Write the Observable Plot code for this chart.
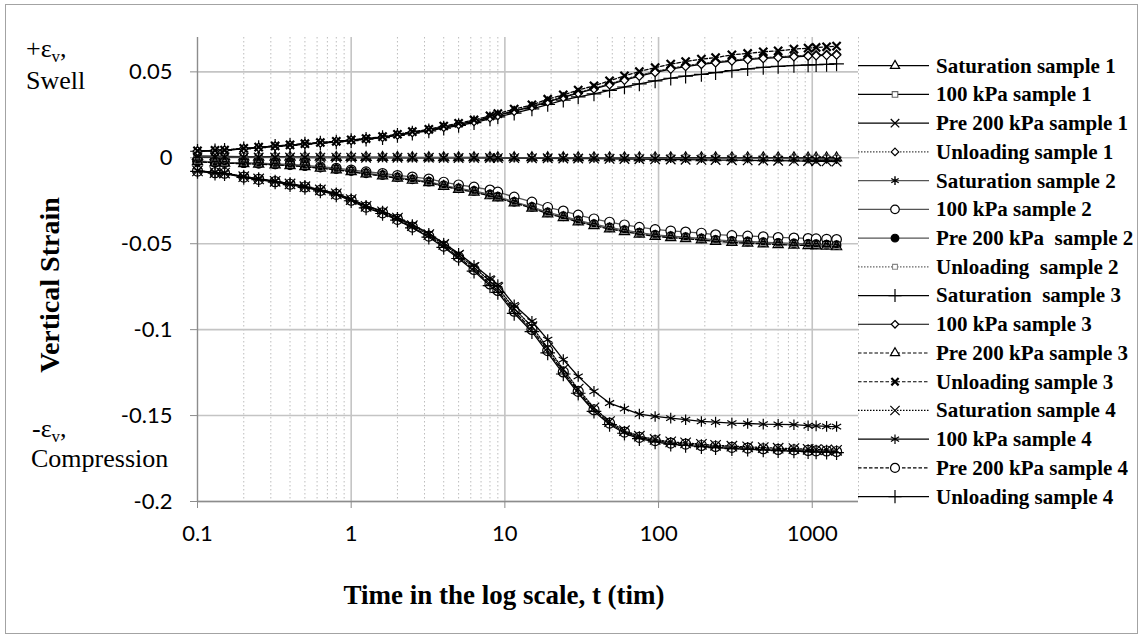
<!DOCTYPE html>
<html>
<head>
<meta charset="utf-8">
<script src="https://cdn.jsdelivr.net/npm/d3@7"></script>
<script src="https://cdn.jsdelivr.net/npm/@observablehq/plot@0.6"></script>
<style>
  body { margin: 0; background: #fff; }
  #wrap { position: relative; width: 1147px; height: 644px; overflow: hidden; background: #fff; }
  #frame { position: absolute; left: 5px; top: 4px; width: 1133px; height: 630px; border: 1.5px solid #a3a3a3; box-sizing: border-box; }
  #wrap svg { position: absolute; left: 0; top: 0; }
</style>
</head>
<body>
<div id="wrap"><div id="frame"></div></div>
<script>
// ---------- data ----------
const times = [
  0.1, 0.13, 0.15, 0.2, 0.25, 0.32, 0.4, 0.5, 0.63, 0.8, 1,
  1.25, 1.6, 2, 2.5, 3.2, 4, 5, 6.3, 8, 9, 11.5,
  15, 19, 24, 30, 38, 48, 60, 75, 95, 120, 150,
  190, 235, 300, 380, 480, 600, 760, 940, 1060, 1240, 1440
];

const seriesNames = [
  "Saturation sample 1", "100 kPa sample 1", "Pre 200 kPa sample 1", "Unloading sample 1",
  "Saturation sample 2", "100 kPa sample 2", "Pre 200 kPa  sample 2", "Unloading  sample 2",
  "Saturation  sample 3", "100 kPa sample 3", "Pre 200 kPa sample 3", "Unloading sample 3",
  "Saturation sample 4", "100 kPa sample 4", "Pre 200 kPa sample 4", "Unloading sample 4"
];

const satS1 = [
  0.0008, 0.0007, 0.0006, 0.0005, 0.0004, 0.0004, 0.0003, 0.0003, 0.0003, 0.0002, 0.0002,
  0.0002, 0.0002, 0.0002, 0.0001, 0.0001, 0.0001, 0.0001, 0.0001, 0.0001, 0.0001, 0.0001,
  0.0001, 0.0001, 0.0001, 0.0001, 0.0000, 0.0000, 0.0000, 0.0000, 0.0000, 0.0000, 0.0000,
  0.0000, 0.0000, 0.0000, 0.0000, 0.0000, 0.0000, 0.0000, -0.0001, -0.0001, -0.0001, -0.0001
];
const kpa100S1 = [
  0.0010, 0.0009, 0.0008, 0.0007, 0.0006, 0.0006, 0.0005, 0.0005, 0.0004, 0.0004, 0.0004,
  0.0003, 0.0003, 0.0003, 0.0003, 0.0002, 0.0002, 0.0002, 0.0002, 0.0002, 0.0001, 0.0001,
  0.0001, 0.0001, 0.0001, 0.0000, 0.0000, 0.0000, 0.0000, 0.0000, -0.0001, -0.0001, -0.0001,
  -0.0001, -0.0002, -0.0002, -0.0002, -0.0003, -0.0003, -0.0003, -0.0004, -0.0004, -0.0004, -0.0005
];
const pre200S1 = [
  0.0003, 0.0003, 0.0003, 0.0002, 0.0002, 0.0002, 0.0002, 0.0001, 0.0001, 0.0001, 0.0001,
  0.0000, 0.0000, 0.0000, 0.0000, 0.0000, -0.0001, -0.0001, -0.0001, -0.0001, -0.0002, -0.0002,
  -0.0003, -0.0003, -0.0004, -0.0004, -0.0005, -0.0006, -0.0007, -0.0008, -0.0009, -0.0010, -0.0011,
  -0.0012, -0.0013, -0.0014, -0.0015, -0.0016, -0.0017, -0.0018, -0.0019, -0.0020, -0.0021, -0.0022
];
const unloadS1 = [
  0.0040, 0.0043, 0.0045, 0.0054, 0.0061, 0.0068, 0.0074, 0.0081, 0.0088, 0.0095, 0.0103,
  0.0111, 0.0121, 0.0134, 0.0149, 0.0163, 0.0180, 0.0196, 0.0214, 0.0237, 0.0250, 0.0274,
  0.0300, 0.0330, 0.0355, 0.0380, 0.0405, 0.0430, 0.0457, 0.0480, 0.0502, 0.0521, 0.0536,
  0.0549, 0.0558, 0.0568, 0.0576, 0.0583, 0.0588, 0.0593, 0.0597, 0.0599, 0.0601, 0.0603
];
const satS2 = [
  0.0005, 0.0005, 0.0004, 0.0004, 0.0004, 0.0003, 0.0003, 0.0003, 0.0003, 0.0002, 0.0002,
  0.0002, 0.0002, 0.0001, 0.0001, 0.0001, 0.0001, 0.0001, 0.0000, 0.0000, 0.0000, 0.0000,
  0.0000, 0.0000, 0.0000, -0.0001, -0.0001, -0.0001, -0.0001, -0.0002, -0.0002, -0.0002, -0.0003,
  -0.0003, -0.0003, -0.0004, -0.0004, -0.0005, -0.0005, -0.0006, -0.0006, -0.0007, -0.0007, -0.0008
];
const kpa100S2 = [
  -0.0018, -0.0025, -0.0027, -0.0028, -0.0031, -0.0035, -0.0039, -0.0044, -0.0052, -0.0060, -0.0070,
  -0.0081, -0.0091, -0.0102, -0.0111, -0.0123, -0.0141, -0.0157, -0.0170, -0.0187, -0.0199, -0.0228,
  -0.0257, -0.0288, -0.0309, -0.0333, -0.0355, -0.0374, -0.0390, -0.0404, -0.0417, -0.0425, -0.0431,
  -0.0438, -0.0447, -0.0452, -0.0455, -0.0459, -0.0463, -0.0466, -0.0469, -0.0471, -0.0473, -0.0475
];
const pre200S2 = [
  -0.0020, -0.0028, -0.0030, -0.0031, -0.0034, -0.0038, -0.0042, -0.0048, -0.0057, -0.0066, -0.0077,
  -0.0090, -0.0101, -0.0114, -0.0125, -0.0139, -0.0160, -0.0178, -0.0193, -0.0213, -0.0226, -0.0256,
  -0.0286, -0.0318, -0.0340, -0.0364, -0.0386, -0.0405, -0.0421, -0.0435, -0.0448, -0.0456, -0.0462,
  -0.0469, -0.0478, -0.0484, -0.0487, -0.0491, -0.0495, -0.0498, -0.0501, -0.0503, -0.0505, -0.0508
];
const unloadS2 = [
  -0.0021, -0.0029, -0.0031, -0.0033, -0.0036, -0.0040, -0.0044, -0.0050, -0.0059, -0.0068, -0.0079,
  -0.0092, -0.0104, -0.0117, -0.0128, -0.0142, -0.0163, -0.0181, -0.0197, -0.0217, -0.0230, -0.0259,
  -0.0289, -0.0322, -0.0343, -0.0368, -0.0390, -0.0409, -0.0425, -0.0439, -0.0452, -0.0460, -0.0466,
  -0.0473, -0.0482, -0.0488, -0.0491, -0.0495, -0.0499, -0.0502, -0.0505, -0.0507, -0.0509, -0.0512
];
const satS3 = [
  0.0038, 0.0041, 0.0043, 0.0052, 0.0059, 0.0066, 0.0072, 0.0079, 0.0085, 0.0092, 0.0100,
  0.0108, 0.0117, 0.0130, 0.0144, 0.0157, 0.0173, 0.0188, 0.0205, 0.0226, 0.0238, 0.0260,
  0.0285, 0.0310, 0.0335, 0.0355, 0.0372, 0.0392, 0.0412, 0.0430, 0.0448, 0.0463, 0.0475,
  0.0485, 0.0496, 0.0508, 0.0518, 0.0526, 0.0532, 0.0537, 0.0540, 0.0542, 0.0544, 0.0546
];
const kpa100S3 = [
  0.0039, 0.0042, 0.0044, 0.0053, 0.0060, 0.0067, 0.0073, 0.0080, 0.0087, 0.0094, 0.0102,
  0.0110, 0.0120, 0.0133, 0.0148, 0.0161, 0.0178, 0.0194, 0.0212, 0.0234, 0.0247, 0.0271,
  0.0297, 0.0326, 0.0351, 0.0376, 0.0401, 0.0426, 0.0452, 0.0475, 0.0497, 0.0516, 0.0531,
  0.0544, 0.0553, 0.0563, 0.0571, 0.0578, 0.0583, 0.0588, 0.0592, 0.0594, 0.0596, 0.0598
];
const pre200S3 = [
  -0.0022, -0.0030, -0.0032, -0.0034, -0.0037, -0.0041, -0.0046, -0.0052, -0.0061, -0.0070, -0.0081,
  -0.0094, -0.0106, -0.0119, -0.0131, -0.0145, -0.0166, -0.0184, -0.0200, -0.0221, -0.0234, -0.0263,
  -0.0293, -0.0326, -0.0348, -0.0373, -0.0395, -0.0414, -0.0430, -0.0444, -0.0457, -0.0465, -0.0471,
  -0.0478, -0.0487, -0.0493, -0.0497, -0.0501, -0.0505, -0.0508, -0.0511, -0.0513, -0.0515, -0.0518
];
const unloadS3 = [
  0.0040, 0.0043, 0.0045, 0.0055, 0.0062, 0.0069, 0.0075, 0.0082, 0.0089, 0.0096, 0.0104,
  0.0112, 0.0123, 0.0137, 0.0152, 0.0166, 0.0185, 0.0201, 0.0220, 0.0244, 0.0257, 0.0283,
  0.0308, 0.0341, 0.0366, 0.0394, 0.0419, 0.0448, 0.0477, 0.0502, 0.0525, 0.0545, 0.0560,
  0.0574, 0.0583, 0.0599, 0.0607, 0.0617, 0.0622, 0.0632, 0.0638, 0.0642, 0.0646, 0.0650
];
const satS4 = [
  -0.0076, -0.0086, -0.0089, -0.0110, -0.0123, -0.0137, -0.0152, -0.0168, -0.0187, -0.0210, -0.0243,
  -0.0282, -0.0314, -0.0351, -0.0395, -0.0447, -0.0504, -0.0566, -0.0637, -0.0719, -0.0757, -0.0877,
  -0.0983, -0.1106, -0.1231, -0.1346, -0.1455, -0.1535, -0.1588, -0.1620, -0.1639, -0.1653, -0.1659,
  -0.1667, -0.1673, -0.1678, -0.1682, -0.1686, -0.1690, -0.1692, -0.1696, -0.1698, -0.1699, -0.1702
];
const kpa100S4 = [
  -0.0075, -0.0085, -0.0088, -0.0109, -0.0122, -0.0136, -0.0150, -0.0166, -0.0185, -0.0207, -0.0240,
  -0.0278, -0.0310, -0.0346, -0.0389, -0.0440, -0.0497, -0.0556, -0.0625, -0.0700, -0.0738, -0.0856,
  -0.0951, -0.1058, -0.1174, -0.1272, -0.1359, -0.1427, -0.1460, -0.1491, -0.1505, -0.1515, -0.1524,
  -0.1534, -0.1538, -0.1544, -0.1546, -0.1550, -0.1551, -0.1553, -0.1559, -0.1560, -0.1563, -0.1564
];
const pre200S4 = [
  -0.0077, -0.0087, -0.0090, -0.0112, -0.0125, -0.0139, -0.0154, -0.0170, -0.0190, -0.0213, -0.0247,
  -0.0287, -0.0320, -0.0358, -0.0403, -0.0456, -0.0514, -0.0578, -0.0650, -0.0734, -0.0772, -0.0893,
  -0.0999, -0.1122, -0.1246, -0.1359, -0.1466, -0.1544, -0.1596, -0.1627, -0.1646, -0.1660, -0.1666,
  -0.1674, -0.1680, -0.1685, -0.1689, -0.1693, -0.1697, -0.1699, -0.1703, -0.1705, -0.1706, -0.1709
];
const unloadS4 = [
  -0.0079, -0.0089, -0.0092, -0.0114, -0.0127, -0.0141, -0.0156, -0.0172, -0.0193, -0.0216, -0.0250,
  -0.0291, -0.0324, -0.0363, -0.0408, -0.0462, -0.0521, -0.0586, -0.0659, -0.0744, -0.0783, -0.0905,
  -0.1012, -0.1135, -0.1258, -0.1370, -0.1475, -0.1552, -0.1603, -0.1634, -0.1653, -0.1667, -0.1673,
  -0.1681, -0.1687, -0.1692, -0.1696, -0.1700, -0.1704, -0.1706, -0.1710, -0.1712, -0.1713, -0.1716
];

const seriesValues = [
  satS1, kpa100S1, pre200S1, unloadS1,
  satS2, kpa100S2, pre200S2, unloadS2,
  satS3, kpa100S3, pre200S3, unloadS3,
  satS4, kpa100S4, pre200S4, unloadS4
];

const xMajorTicks = [0.1, 1, 10, 100, 1000];
const xMinorGrid = [0.2, 0.3, 0.4, 0.5, 0.6, 0.7, 0.8, 0.9,
  2, 3, 4, 5, 6, 7, 8, 9, 20, 30, 40, 50, 60, 70, 80, 90,
  200, 300, 400, 500, 600, 700, 800, 900, 2000];
const yTicks = [0.05, 0, -0.05, -0.1, -0.15, -0.2];

// ---------- styles (kept apart from the data) ----------
const DOT = "1.5,1.5", DASH = "3.5,2";
const styles = [
  {dash: null, line: "#000", sym: "triangle", r: 3.8, fill: "#fff", stroke: "#000", sw: 1.2},
  {dash: null, line: "#000", sym: "square", r: 3.5, fill: "#fff", stroke: "#666", sw: 1.1},
  {dash: null, line: "#000", sym: "times", r: 4.4, fill: "none", stroke: "#000", sw: 1.3},
  {dash: DOT, line: "#444", sym: "diamond2", r: 3.8, fill: "#fff", stroke: "#000", sw: 1.2},
  {dash: null, line: "#555", sym: "asterisk", r: 4.5, fill: "none", stroke: "#000", sw: 1.4},
  {dash: null, line: "#555", sym: "circle", r: 4.8, fill: "#fff", stroke: "#000", sw: 1.2},
  {dash: null, line: "#555", sym: "circle", r: 4.3, fill: "#000", stroke: "#000", sw: 1.2},
  {dash: DOT, line: "#666", sym: "square", r: 3.1, fill: "none", stroke: "#888", sw: 1.1},
  {dash: null, line: "#000", sym: "plus", r: 4.8, fill: "none", stroke: "#000", sw: 1.2},
  {dash: null, line: "#000", sym: "diamond2", r: 3.8, fill: "#fff", stroke: "#000", sw: 1.2},
  {dash: DASH, line: "#000", sym: "triangle", r: 3.8, fill: "none", stroke: "#000", sw: 1.2},
  {dash: DASH, line: "#000", sym: "times", r: 3.8, fill: "none", stroke: "#000", sw: 2.2},
  {dash: DOT, line: "#000", sym: "times", r: 4.8, fill: "none", stroke: "#000", sw: 1.2},
  {dash: null, line: "#000", sym: "asterisk", r: 5, fill: "none", stroke: "#000", sw: 1.2},
  {dash: DASH, line: "#000", sym: "circle", r: 5, fill: "none", stroke: "#000", sw: 1.2},
  {dash: null, line: "#000", sym: "plus", r: 4.8, fill: "none", stroke: "#000", sw: 1.2}
];

// ---------- chart ----------
const seriesMarks = [];
seriesValues.forEach((vals, i) => {
  const rows = times.map((t, j) => ({t, v: vals[j]})).filter(d => d.v !== undefined);
  const s = styles[i];
  seriesMarks.push(Plot.line(rows, {x: "t", y: "v", stroke: s.line, strokeWidth: 1.3,
    strokeDasharray: s.dash || undefined}));
  seriesMarks.push(Plot.dot(rows, {x: "t", y: "v", symbol: s.sym, r: s.r,
    fill: s.fill, stroke: s.stroke, strokeWidth: s.sw}));
});

const chart = Plot.plot({
  width: 1147,
  height: 644,
  marginLeft: 197,
  marginRight: 289,
  marginTop: 37,
  marginBottom: 143,
  x: {type: "log", domain: [0.1, 2000]},
  y: {domain: [-0.2, 0.07]},
  style: {background: "transparent", overflow: "visible"},
  marks: [
    Plot.ruleX(xMinorGrid, {stroke: "#bdbdbd", strokeWidth: 1, strokeDasharray: "1.5,2.5"}),
    Plot.ruleX(xMajorTicks.slice(1), {stroke: "#c4c4c4", strokeWidth: 1.6}),
    Plot.ruleY(yTicks, {stroke: "#c4c4c4", strokeWidth: 1.6}),
    Plot.ruleX([0.1], {stroke: "#8c8c8c", strokeWidth: 1.4}),
    Plot.ruleY([-0.2], {stroke: "#8c8c8c", strokeWidth: 1.4}),
    Plot.axisY(yTicks, {tickSize: 7, tickPadding: 18, tickFormat: d => String(d),
      stroke: "#8c8c8c", fill: "#000", fontSize: 22, fontFamily: "Lato", label: null}),
    Plot.axisX(xMajorTicks, {tickSize: 7, tickPadding: 17, tickFormat: d => String(d),
      stroke: "#8c8c8c", fill: "#000", fontSize: 22, fontFamily: "Lato", label: null}),
    ...seriesMarks
  ]
});
document.getElementById("wrap").appendChild(chart);

// ---------- overlay: titles, annotations, legend ----------
const ov = d3.select("#wrap").append("svg")
  .attr("width", 1147).attr("height", 644);

const serif = "'Liberation Serif', 'Times New Roman', serif";

function epsLabel(x, y, sign) {
  const t = ov.append("text").attr("x", x).attr("y", y)
    .attr("font-family", serif).attr("font-size", 26).attr("fill", "#000");
  t.append("tspan").text(sign + "ε");
  t.append("tspan").attr("dy", 5).attr("font-size", 17).text("v");
  t.append("tspan").attr("dy", -5).text(",");
}
epsLabel(26, 57, "+");
ov.append("text").attr("x", 26).attr("y", 89).attr("font-family", serif)
  .attr("font-size", 26).text("Swell");
epsLabel(32, 437, "-");
ov.append("text").attr("x", 31).attr("y", 467).attr("font-family", serif)
  .attr("font-size", 26).text("Compression");

ov.append("text")
  .attr("transform", "translate(59,285) rotate(-90)")
  .attr("text-anchor", "middle").attr("font-family", serif)
  .attr("font-size", 28).attr("font-weight", "bold").text("Vertical Strain");

ov.append("text")
  .attr("x", 504).attr("y", 604).attr("text-anchor", "middle")
  .attr("font-family", serif).attr("font-size", 27).attr("font-weight", "bold")
  .text("Time in the log scale, t (tim)");

const symMap = {
  triangle: d3.symbolTriangle, square: d3.symbolSquare, times: d3.symbolTimes,
  diamond2: d3.symbolDiamond2, asterisk: d3.symbolAsterisk, circle: d3.symbolCircle,
  plus: d3.symbolPlus
};
const legY0 = 65.7, legStep = 28.73;
seriesNames.forEach((name, i) => {
  const s = styles[i];
  const y = legY0 + i * legStep;
  const g = ov.append("g");
  g.append("line").attr("x1", 858).attr("x2", 929).attr("y1", y).attr("y2", y)
    .attr("stroke", s.line).attr("stroke-width", 1.2)
    .attr("stroke-dasharray", s.dash || null);
  g.append("path")
    .attr("d", d3.symbol(symMap[s.sym], s.r * s.r * Math.PI * 0.8)())
    .attr("transform", `translate(895,${y})`)
    .attr("fill", s.fill === "none" ? "#fff" : s.fill).attr("stroke", s.stroke).attr("stroke-width", s.sw);
  g.append("text").attr("x", 936).attr("y", y).attr("dy", "0.33em")
    .attr("font-family", serif).attr("font-size", 21).attr("font-weight", "bold")
    .style("white-space", "pre").text(name);
});
</script>
</body>
</html>
